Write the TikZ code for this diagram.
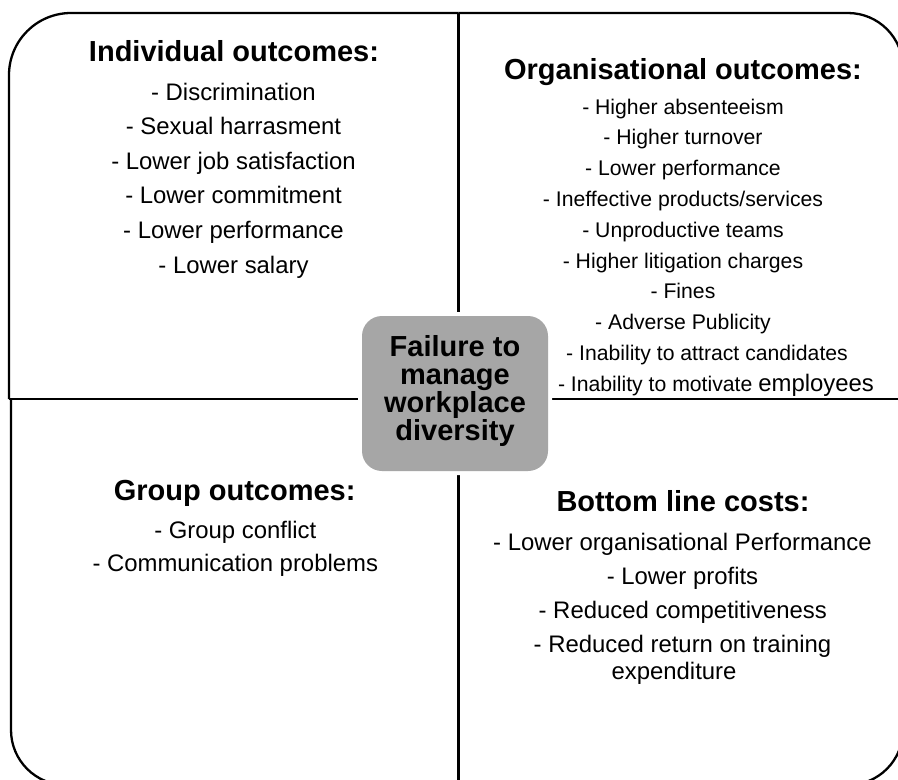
\documentclass[tikz,border=0pt]{standalone}
\usepackage{fontspec}
\setmainfont{Liberation Sans}
\definecolor{boxgray}{RGB}{166,166,166}
\tikzset{
  frame/.style={line width=2.3pt, draw=black},
  head/.style={anchor=base, inner sep=0pt, font=\fontsize{29}{34}\selectfont\bfseries},
  itemA/.style={anchor=base, inner sep=0pt, font=\fontsize{23.9}{28}\selectfont},
  itemB/.style={anchor=base, inner sep=0pt, font=\fontsize{21.2}{25}\selectfont},
  boxtext/.style={anchor=base, inner sep=0pt, font=\fontsize{29}{28}\selectfont\bfseries},
  centerbox/.style={fill=boxgray, rounded corners=20pt, minimum width=186pt,
    minimum height=155pt, inner sep=0pt, preaction={draw=white, line width=8pt}},
}
\begin{document}
\begin{tikzpicture}[x=1pt,y=-1pt]
\path[use as bounding box] (0,0) rectangle (898,780);
\clip (0,0) rectangle (898,780);
\fill[white] (0,0) rectangle (898,780);

% quadrant frames
\draw[frame, rounded corners=62pt] (9,399) -- (9,13) -- (458.5,13);
\draw[frame, rounded corners=55pt] (458.5,13) -- (903,13) -- (903,399);
\draw[frame, rounded corners=55pt] (11,399) -- (11,785) -- (458.5,785);
\draw[frame, rounded corners=55pt] (458.5,785) -- (903,785) -- (903,399);
\draw[frame] (458.5,13) -- (458.5,785);
\draw[frame] (9,399) -- (903,399);

% centre box
\node[centerbox] (box) at (455,393.5) {};
\node[boxtext] (c1) at (455,356.7) {Failure to};
\node[boxtext] (c2) at (455,384.5) {manage};
\node[boxtext] (c3) at (455,412.3) {workplace};
\node[boxtext] (c4) at (455,440.3) {diversity};

% individual outcomes
\node[head] (h1) at (234,61.7) {Individual outcomes:};
\foreach \t [count=\i] in {{- Discrimination},{- Sexual harrasment},{- Lower job satisfaction},{- Lower commitment},{- Lower performance},{- Lower salary}}
  \node[itemA] (a\i) at (233.5,{100+34.6*(\i-1)}) {\t};

% organisational outcomes
\node[head] (h2) at (683,79.3) {Organisational outcomes:};
\foreach \t [count=\i] in {{- Higher absenteeism},{- Higher turnover},{- Lower performance},{- Ineffective products/services},{- Unproductive teams},{- Higher litigation charges},{- Fines},{- Adverse Publicity}}
  \node[itemB] (b\i) at (683,{114+30.8*(\i-1)}) {\t};
\node[itemB] (b9) at (707,360.4) {- Inability to attract candidates};
\node[itemB, anchor=base west] (b10) at (557.8,391.2) {- Inability to motivate {\fontsize{23.9}{28}\selectfont employees}};

% group outcomes
\node[head] (h3) at (234.7,500) {Group outcomes:};
\node[itemA] (g1) at (235.3,538.3) {- Group conflict};
\node[itemA] (g2) at (235.3,571.7) {- Communication problems};

% bottom line costs
\node[head] (h4) at (683,511.7) {Bottom line costs:};
\node[itemA] (d1) at (682.5,550) {- Lower organisational Performance};
\node[itemA] (d2) at (682.5,584) {- Lower profits};
\node[itemA] (d3) at (682.8,618) {- Reduced competitiveness};
\node[itemA] (d4) at (682.5,652) {- Reduced return on training};
\node[itemA] (d5) at (674,679) {expenditure};
\end{tikzpicture}
\end{document}
